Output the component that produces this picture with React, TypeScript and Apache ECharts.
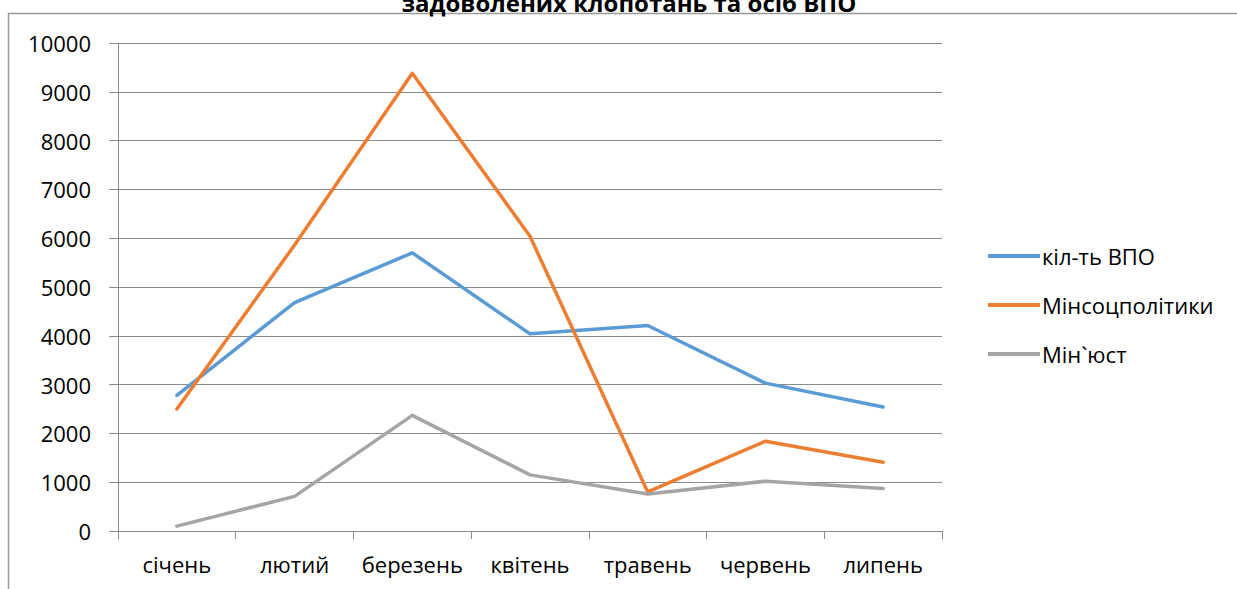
import React, { useEffect, useRef } from "react";
import * as echarts from "echarts";

const categories = ["січень", "лютий", "березень", "квітень", "травень", "червень", "липень"];
const seriesNames = ["кіл-ть ВПО", "Мінсоцполітики", "Мін`юст"];
const vpoCount = [2780, 4680, 5700, 4040, 4210, 3030, 2540];
const minSocPolicy = [2500, 5860, 9380, 6040, 800, 1840, 1410];
const minJustice = [100, 710, 2370, 1150, 760, 1020, 870];
const colors = ["#5B9BD5", "#ED7D31", "#A5A5A5"];
const titleText = "задоволених клопотань та осіб ВПО";

const FONT = '"Open Sans", sans-serif';

export default function App() {
  const ref = useRef<HTMLDivElement>(null);
  useEffect(() => {
    if (!ref.current) return;
    const chart = echarts.init(ref.current, null, { renderer: "svg" });
    const datasets = [vpoCount, minSocPolicy, minJustice];
    chart.setOption({
      animation: false,
      backgroundColor: "#ffffff",
      color: colors,
      graphic: [
        {
          type: "rect",
          shape: { x: 8.5, y: 13.5, width: 1400, height: 800 },
          style: { fill: "none", stroke: "#9a9a9a", lineWidth: 1.5 },
          silent: true,
        },
        {
          type: "text",
          x: 629,
          y: 14,
          style: {
            text: titleText,
            fontFamily: FONT,
            fontWeight: "bold",
            fontSize: 24,
            fill: "#000",
            textAlign: "center",
            textVerticalAlign: "bottom",
          },
          silent: true,
        },
      ],
      grid: { left: 118, right: 295, top: 43, bottom: 58, containLabel: false },
      legend: {
        orient: "vertical",
        left: 983,
        top: 240,
        itemWidth: 52,
        itemHeight: 14,
        itemGap: 27,
        data: seriesNames.map((n, i) => ({
          name: n,
          icon: "path://M0,0 L52,0 L52,4 L0,4 Z",
          itemStyle: { color: colors[i] },
        })),
        textStyle: { fontFamily: FONT, fontSize: 22, color: "#000", padding: [0, 0, 0, -3] },
      },
      xAxis: {
        type: "category",
        data: categories,
        boundaryGap: true,
        axisLine: { show: true, lineStyle: { color: "#8a8a8a", width: 1 } },
        axisTick: { show: true, interval: 0, length: 8, lineStyle: { color: "#8a8a8a" } },
        axisLabel: { interval: 0, fontFamily: FONT, fontSize: 22, color: "#000", margin: 22 },
      },
      yAxis: {
        type: "value",
        min: 0,
        max: 10000,
        interval: 1000,
        axisLine: { show: true, lineStyle: { color: "#8a8a8a", width: 1 } },
        axisTick: { show: true, length: 9, lineStyle: { color: "#8a8a8a" } },
        splitLine: { show: true, lineStyle: { color: "#8a8a8a", width: 1 } },
        axisLabel: {
          fontFamily: FONT,
          fontSize: 22,
          color: "#000",
          margin: 27,
          formatter: (v: number) => String(v),
        },
      },
      series: seriesNames.map((n, i) => ({
        name: n,
        type: "line",
        data: datasets[i],
        symbol: "none",
        lineStyle: { width: 3.5, color: colors[i], cap: "round", join: "round" },
        itemStyle: { color: colors[i] },
      })),
    });
    return () => chart.dispose();
  }, []);
  return (
    <div
      ref={ref}
      style={{ position: "fixed", left: 0, top: 0, width: 1237, height: 589 }}
    />
  );
}
